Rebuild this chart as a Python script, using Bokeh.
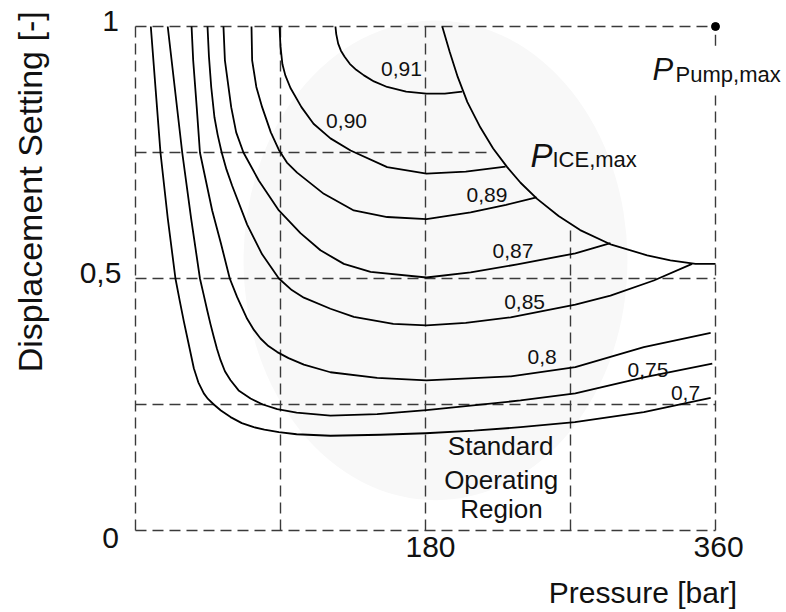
import math

from bokeh.core.properties import value
from bokeh.embed import file_html
from bokeh.models import Range1d
from bokeh.plotting import figure
from bokeh.resources import INLINE

# Reference grid of the operating map
GRID_P = [0, 90, 180, 270, 360]            # pressure lines [bar]
GRID_P_TOP = [1.0, 1.0, 1.0, 0.605, 1.0]    # upper end of each pressure line
GRID_D = [0, 0.25, 0.5, 0.75, 1.0]          # displacement lines [-]
GRID_D_RIGHT = [360, 360, 360, 221, 360]    # right end of each displacement line
PUMP_LINE_GAP = [0.863, 0.962]              # break in the 360 bar line behind its label

# Maximum engine power limit
P_ICE_X = [190.4, 195, 200, 206, 214, 222, 230.7, 239, 249.3, 262.6, 276, 295.4, 317.6, 332, 347.6, 360]
P_ICE_Y = [1.0, 0.95, 0.90, 0.85, 0.80, 0.758, 0.721, 0.69, 0.658, 0.624, 0.596, 0.567, 0.546, 0.536, 0.529, 0.529]

# Maximum pump operating point
PUMP_MAX_P = [360]
PUMP_MAX_D = [1.0]

# Iso-efficiency lines: pressure [bar] and displacement setting [-]
EFF_070_X = [9.5, 12.5, 15.5, 20, 24.8, 27.5, 30, 33, 36.2, 39, 42.4, 45, 48.6, 53, 59, 66, 73.4, 80, 89,
             100, 121, 152, 180, 210, 239, 272.7, 315.5, 357]
EFF_070_Y = [1.0, 0.875, 0.75, 0.62, 0.5, 0.455, 0.415, 0.37, 0.322, 0.294, 0.272, 0.261, 0.25, 0.238, 0.225,
             0.213, 0.205, 0.2, 0.195, 0.191, 0.188, 0.19, 0.193, 0.198, 0.205, 0.215, 0.235, 0.263]

EFF_075_X = [20, 24.5, 29, 34.5, 40, 42.3, 44.5, 46.5, 48.6, 50.6, 52.8, 55.5, 59, 64, 71.4, 79, 88, 100,
             121, 150, 180.6, 239, 273, 315.5, 358]
EFF_075_Y = [1.0, 0.875, 0.75, 0.62, 0.5, 0.468, 0.437, 0.41, 0.384, 0.36, 0.338, 0.316, 0.298, 0.278,
             0.262, 0.25, 0.241, 0.234, 0.228, 0.231, 0.239, 0.258, 0.272, 0.304, 0.331]

EFF_080_X = [34.8, 35.8, 38, 40, 47.6, 53, 58.5, 63.1, 69.3, 73.5, 77.6, 82.5, 88, 95, 104.5, 121, 150,
             180.6, 233, 273, 315.5, 357]
EFF_080_Y = [1.0, 0.933, 0.84, 0.75, 0.635, 0.57, 0.5, 0.463, 0.42, 0.398, 0.381, 0.366, 0.354, 0.342,
             0.329, 0.314, 0.303, 0.298, 0.306, 0.324, 0.364, 0.392]

EFF_085_X = [44.7, 45.6, 47, 49, 51, 53.5, 56.5, 60, 69.3, 78.6, 89, 97, 104.5, 121, 135.5, 160, 180.6,
             205, 232.8, 273, 294.8, 321.7, 345.5]
EFF_085_Y = [1.0, 0.94, 0.88, 0.82, 0.785, 0.75, 0.716, 0.684, 0.607, 0.548, 0.5, 0.477, 0.462, 0.44,
             0.424, 0.41, 0.407, 0.412, 0.423, 0.448, 0.466, 0.496, 0.529]

EFF_087_X = [54.6, 55.5, 59.4, 62.5, 67, 76.6, 89, 102.4, 114.8, 129.3, 145.9, 180.6, 208, 237, 273, 294.8]
EFF_087_Y = [1.0, 0.933, 0.84, 0.79, 0.75, 0.694, 0.635, 0.59, 0.556, 0.529, 0.513, 0.502, 0.512, 0.528,
             0.55, 0.570]

EFF_089_X = [72, 72.4, 75, 78.6, 84, 89, 94, 100.3, 116.9, 135.5, 156.2, 180.6, 208, 230, 248.9]
EFF_089_Y = [1.0, 0.933, 0.88, 0.84, 0.79, 0.755, 0.73, 0.71, 0.668, 0.635, 0.622, 0.618, 0.631, 0.646, 0.661]

EFF_090_X = [89.4, 90, 91.2, 93, 96.2, 103, 110.5, 121, 133.5, 156.2, 180.6, 205, 229.7]
EFF_090_Y = [1.0, 0.96, 0.925, 0.903, 0.878, 0.84, 0.807, 0.778, 0.754, 0.721, 0.708, 0.712, 0.722]

EFF_091_X = [124.1, 124.6, 125.8, 127.5, 129.8, 133, 137, 141.8, 148, 156.2, 168, 180.6, 192, 202.8]
EFF_091_Y = [1.0, 0.985, 0.966, 0.952, 0.94, 0.926, 0.914, 0.903, 0.891, 0.88, 0.871, 0.867, 0.867, 0.871]

EFF_LABELS = ["0,91", "0,90", "0,89", "0,87", "0,85", "0,8", "0,75", "0,7"]
EFF_LABEL_X = [165.1, 131.0, 218.2, 234.3, 241.5, 252.4, 318.1, 341.4]
EFF_LABEL_Y = [0.915, 0.813, 0.666, 0.555, 0.453, 0.344, 0.319, 0.273]

# Tick labels
Y_TICK_LABELS = ["1", "0,5", "0"]
Y_TICK_X = [-15.5, -21.7, -15.5]
Y_TICK_Y = [1.011, 0.51, -0.014]
X_TICK_LABELS = ["180", "360"]
X_TICK_X = [183.1, 361.9]
X_TICK_Y = [-0.032, -0.032]

REGION_LINES = ["Standard", "Operating", "Region"]
REGION_X = [226.6, 227.0, 227.2]
REGION_Y = [0.167, 0.101, 0.042]

contours = [
    (EFF_070_X, EFF_070_Y), (EFF_075_X, EFF_075_Y), (EFF_080_X, EFF_080_Y),
    (EFF_085_X, EFF_085_Y), (EFF_087_X, EFF_087_Y), (EFF_089_X, EFF_089_Y),
    (EFF_090_X, EFF_090_Y), (EFF_091_X, EFF_091_Y),
]

FONT = value("Liberation Sans")
INK = "#111111"
DASH_COLOR = "#3a3a3a"

W, H = 786, 612
p = figure(
    width=W, height=H,
    x_range=Range1d(-83.79, 404.07), y_range=Range1d(-0.1627, 1.0516),
    x_axis_location=None, y_axis_location=None,
    toolbar_location=None, output_backend="svg",
    min_border=0, background_fill_color="white", border_fill_color="white",
)
p.outline_line_color = None
p.grid.visible = False

# faint shading behind the efficiency island
p.ellipse(x=[186.2], y=[0.536], width=[238.3], height=[0.952], fill_color="#f8f8f8", line_color=None)

# dashed reference grid
dash = dict(line_color=DASH_COLOR, line_width=1.4, line_dash="11 6")
p.segment(x0=GRID_P[:-1], y0=[0] * 4, x1=GRID_P[:-1], y1=GRID_P_TOP[:-1], **dash)
p.segment(x0=[GRID_P[-1], GRID_P[-1]], y0=[0, PUMP_LINE_GAP[1]],
          x1=[GRID_P[-1], GRID_P[-1]], y1=[PUMP_LINE_GAP[0], GRID_P_TOP[-1]], **dash)
p.segment(x0=[0] * 5, y0=GRID_D, x1=GRID_D_RIGHT, y1=GRID_D, **dash)

# iso-efficiency lines and the engine power limit
p.multi_line(xs=[c[0] for c in contours], ys=[c[1] for c in contours], line_color="black",
             line_width=1.8, line_join="round")
p.line(P_ICE_X, P_ICE_Y, line_color="black", line_width=1.8, line_join="round")
p.scatter(PUMP_MAX_P, PUMP_MAX_D, size=8, color="black")

# labels
mid = dict(text_font=FONT, text_color=INK, text_align="center", text_baseline="middle")
p.text(EFF_LABEL_X, EFF_LABEL_Y, text=EFF_LABELS, text_font_size="21px", **mid)
p.text(REGION_X, REGION_Y, text=REGION_LINES, text_font_size="26px", **mid)
p.text(Y_TICK_X, Y_TICK_Y, text=Y_TICK_LABELS, text_font_size="30px", **mid)
p.text(X_TICK_X, X_TICK_Y, text=X_TICK_LABELS, text_font_size="30px", **mid)
p.text([315.0], [-0.123], text=["Pressure [bar]"], text_font_size="30px", **mid)
p.text([-65.2], [0.672], text=["Displacement Setting [-]"], angle=math.pi / 2,
       text_font_size="34px", **mid)

# P_ICE,max and P_Pump,max with subscripts
left = dict(text_font=FONT, text_color=INK, text_align="left", text_baseline="middle")
p.text([245.2], [0.744], text=["P"], text_font_size="33px", text_font_style="italic", **left)
p.text([258.8], [0.736], text=["ICE,max"], text_font_size="22px", **left)
p.text([320.9], [0.915], text=["P"], text_font_size="31px", text_font_style="italic", **left)
p.text([335.2], [0.905], text=["Pump,max"], text_font_size="22px", **left)

open("out.html", "w").write(file_html(p, INLINE))
